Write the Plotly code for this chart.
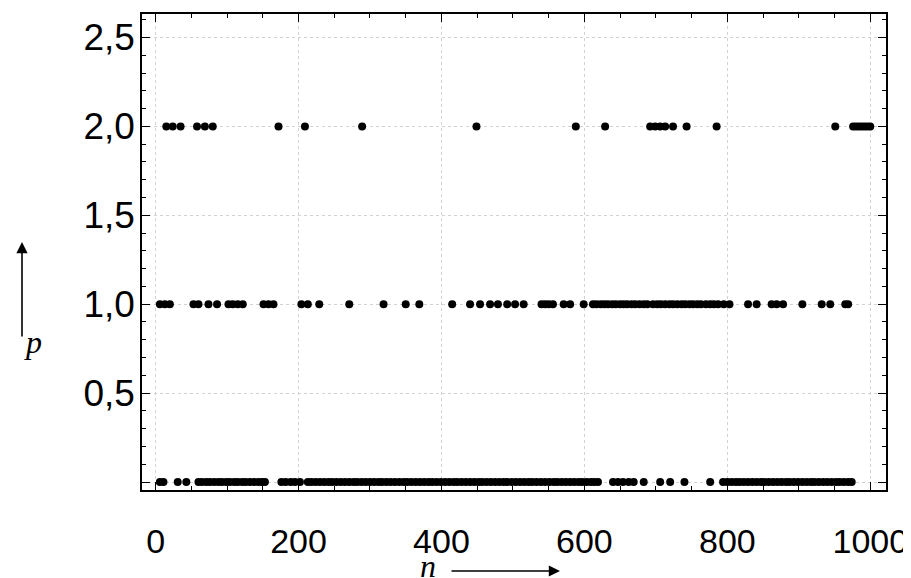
import plotly.graph_objects as go

# n positions of points at each level p
n_p2 = [15, 24, 35, 58, 69, 80, 172, 209, 289, 449, 588, 629, 692, 699, 706, 713,
        724, 743, 785, 951, 976, 980, 984, 988, 992, 996, 1000]

n_p1 = [6, 13, 20, 53, 60, 74, 86, 102, 108, 115, 122, 151, 158, 165, 204, 213, 229,
        271, 319, 350, 369, 415, 440, 454, 468, 479, 492, 503, 515, 540, 545, 550,
        556, 571, 580, 599, 612, 617, 623, 628, 633, 639, 644, 650, 655, 660, 666,
        671, 677, 683, 688, 696, 702, 707, 713, 719, 724, 730, 736, 741, 747, 752,
        758, 763, 770, 776, 781, 787, 795, 803, 829, 841, 862, 869, 878, 905, 932,
        944, 965, 969]

n_p0 = [6, 11, 31, 43, 60, 65, 71, 76, 82, 88, 93, 99, 104, 110, 115, 121, 126, 132,
        138, 144, 149, 153, 176, 182, 189, 195, 202, 213, 218, 224, 230, 236, 242,
        247, 253, 259, 265, 271, 277, 282, 288, 294, 300, 306, 312, 317, 323, 329,
        335, 341, 347, 352, 358, 364, 370, 376, 382, 387, 393, 399, 405, 411, 417,
        422, 428, 434, 440, 446, 452, 457, 463, 469, 475, 481, 487, 492, 498, 504,
        510, 516, 522, 527, 533, 539, 545, 551, 557, 562, 568, 574, 580, 586, 592,
        597, 603, 609, 614, 619, 640, 647, 654, 662, 669, 683, 706, 720, 740, 776,
        794, 800, 806, 812, 817, 823, 829, 835, 841, 847, 852, 858, 864, 870, 876,
        882, 887, 893, 899, 905, 911, 917, 922, 928, 934, 940, 946, 952, 957, 963,
        969, 974]

levels = [2.0, 1.0, 0.0]
series = [n_p2, n_p1, n_p0]

x_ticks = [0, 200, 400, 600, 800, 1000]
x_labels = ["0", "200", "400", "600", "800", "1000"]
y_ticks = [0, 0.5, 1.0, 1.5, 2.0, 2.5]
y_labels = ["", "0,5", "1,0", "1,5", "2,0", "2,5"]

fig = go.Figure()
for lvl, ns in zip(levels, series):
    fig.add_trace(go.Scatter(
        x=ns, y=[lvl] * len(ns), mode="markers",
        marker=dict(color="black", size=8, line=dict(width=0)),
        showlegend=False, hoverinfo="x+y"))

xfont = dict(family="Liberation Sans, Arial, sans-serif", size=34, color="black")
yfont = dict(family="Liberation Sans, Arial, sans-serif", size=37, color="black")

# page body has an 8px margin, so the figure is 8px smaller and offset
fig.update_layout(
    width=903, height=570,
    margin=dict(l=134, r=25, t=6, b=88),
    paper_bgcolor="white", plot_bgcolor="white",
    xaxis=dict(range=[-19, 1022], tickvals=x_ticks, ticktext=x_labels,
               ticks="inside", ticklen=8, tickwidth=1.2, tickcolor="black",
               minor=dict(ticks="inside", dtick=50, tick0=0, ticklen=4, tickcolor="black", showgrid=False),
               showline=True, linecolor="black", linewidth=1.5, mirror="ticks",
               showgrid=True, gridcolor="#d2d2d2", griddash="dot", gridwidth=1,
               zeroline=False, tickfont=xfont, ticklabelstandoff=20, automargin=False,
               ticklabeloverflow="allow"),
    yaxis=dict(range=[-0.045, 2.632], tickvals=y_ticks, ticktext=y_labels,
               ticks="inside", ticklen=8, tickwidth=1.2, tickcolor="black",
               minor=dict(ticks="inside", dtick=0.1, tick0=0, ticklen=4, tickcolor="black", showgrid=False),
               showline=True, linecolor="black", linewidth=1.5, mirror="ticks",
               showgrid=True, gridcolor="#d2d2d2", griddash="dot", gridwidth=1,
               zeroline=False, tickfont=yfont, ticklabelstandoff=-2, automargin=False,
               ticklabeloverflow="allow"),
)

serif = dict(family="Liberation Serif, Times New Roman, serif", size=32, color="black")

# vertical arrow + p
fig.add_annotation(xref="paper", yref="paper", x=(22 - 142) / 744, y=(490 - 242) / 476,
                   ax=0, ay=96, axref="pixel", ayref="pixel", text="", showarrow=True,
                   arrowhead=2, arrowsize=1.4, arrowwidth=1.6, arrowcolor="black")
fig.add_annotation(xref="paper", yref="paper", x=(22 - 142) / 744, y=(490 - 362) / 476,
                   text="<i>p</i>", showarrow=False, font=serif)
# horizontal arrow + n
fig.add_annotation(xref="paper", yref="paper", x=(560 - 142) / 744, y=(490 - 571) / 476,
                   ax=-110, ay=0, axref="pixel", ayref="pixel", text="", showarrow=True,
                   arrowhead=2, arrowsize=1.4, arrowwidth=1.6, arrowcolor="black")
fig.add_annotation(xref="paper", yref="paper", x=(428 - 142) / 744, y=(490 - 586) / 476,
                   yanchor="bottom", text="<i>n</i>", showarrow=False, font=serif)

fig.write_html("out.html")
